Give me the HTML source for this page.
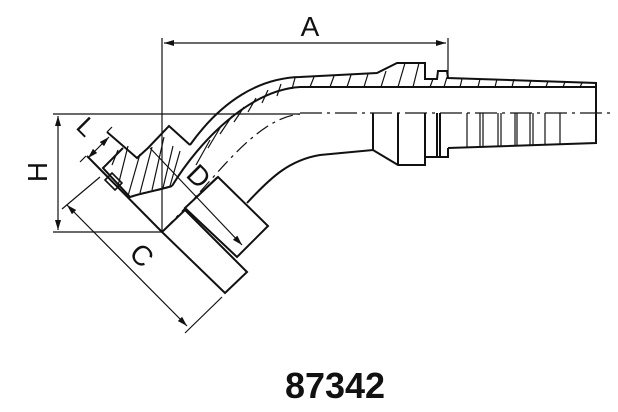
<!DOCTYPE html>
<html><head><meta charset="utf-8"><style>
html,body{margin:0;padding:0;background:#fff;}
svg{display:block;}
text{font-family:"Liberation Sans",Arial,sans-serif;fill:#111;}
</style></head><body>
<svg width="618" height="412" viewBox="0 0 618 412" xmlns="http://www.w3.org/2000/svg">
<defs>
<marker id="ar" viewBox="0 0 10 6" refX="10" refY="3" markerWidth="10" markerHeight="6" orient="auto-start-reverse" markerUnits="userSpaceOnUse">
<path d="M0,0 L10,3 L0,6 z" fill="#111"/></marker>
</defs>
<g stroke="#111" fill="none" stroke-width="1.2">
<!-- dimension A -->
<line x1="162" y1="38" x2="162" y2="233"/>
<line x1="448" y1="38" x2="448" y2="78"/>
<line x1="164" y1="43" x2="446" y2="43" marker-start="url(#ar)" marker-end="url(#ar)"/>
<!-- H -->
<line x1="53" y1="114" x2="300" y2="114"/>
<line x1="53" y1="232" x2="162" y2="232"/>
<line x1="58" y1="116" x2="58" y2="230" marker-start="url(#ar)" marker-end="url(#ar)"/>
<!-- centerline -->
<path d="M300,113 L612,113" stroke-dasharray="22,5,3,5"/>
<path d="M163,231 L190,203 C225,165 260,118 300,114" stroke-dasharray="14,5,3,5"/>
<!-- C dim -->
<line x1="100" y1="177" x2="62" y2="209"/>
<line x1="222" y1="297" x2="185" y2="333"/>
<line x1="67" y1="205" x2="187" y2="326" marker-start="url(#ar)" marker-end="url(#ar)"/>
<!-- D dim -->
<line x1="150" y1="148" x2="242" y2="245" marker-end="url(#ar)"/>
<line x1="193" y1="200" x2="217" y2="177"/>
<!-- L dim -->
<line x1="107" y1="132" x2="112" y2="127"/>
<line x1="86" y1="156" x2="80" y2="162"/>
<line x1="88" y1="158" x2="109" y2="137" marker-start="url(#ar)" marker-end="url(#ar)"/>
</g>
<g stroke="#111" fill="none" stroke-width="2" stroke-linejoin="miter">
<!-- outer curve & right tube -->
<path d="M190,145 C222,100 260,78 300,77 L377,73 L397,63 L425,63 L425,79 L437,79 L438,71 L447,71 L448,78 L596,83 L596,143 L448,148"/>
<path d="M172,186 C200,140 250,90 300,87 L596,87"/>
<!-- lower curve -->
<path d="M247,203 C272,176 290,160 320,155 L373,150 L398,165 L425,165 L425,157 L448,157 L448,148"/>
<line x1="373" y1="113" x2="373" y2="150"/>
<line x1="398" y1="113" x2="398" y2="165"/>
<line x1="425" y1="113" x2="425" y2="157"/>
<line x1="437" y1="113" x2="437" y2="157"/>
<line x1="440" y1="113" x2="440" y2="157"/>
<!-- sleeves -->
<polygon points="218,177 268,226 237,257 185,208"/>
<polygon points="185,210 247,272 225,293 162,232"/>
<line x1="87" y1="156" x2="162" y2="232"/>
<!-- nut -->
<path d="M107,132 L137,158 L148,148 L169,126 L190,145"/>
<path d="M123,148 L103,168 L130,197 C145,192 160,190 172,186"/>
<polygon points="105,180 112,173 122,183 115,190" stroke-width="1.6"/>
</g>
<g stroke="#111" stroke-width="1.2">
<!-- ribs -->
<line x1="467" y1="113" x2="467" y2="148"/>
<line x1="480" y1="113" x2="480" y2="147"/>
<line x1="483" y1="113" x2="483" y2="147"/>
<line x1="498" y1="113" x2="498" y2="147"/>
<line x1="501" y1="113" x2="501" y2="147"/>
<line x1="515" y1="113" x2="515" y2="146"/>
<line x1="517" y1="113" x2="517" y2="146"/>
<line x1="530" y1="113" x2="530" y2="146"/>
<line x1="533" y1="113" x2="533" y2="146"/>
<line x1="545" y1="113" x2="545" y2="145"/>
<line x1="560" y1="113" x2="560" y2="145"/>
<!-- hatch right band -->
<path d="M310,87 l4,-10 M330,87 l4,-11 M347,87 l4,-12 M364,87 l4,-13 M381,87 l5,-16 M398,87 l7,-24 M413,87 l6,-24 M430,87 l3,-8 M444,87 l3,-10 M460,87 l2,-8 M478,87 l2,-8 M495,87 l2,-8 M512,87 l2,-8 M529,87 l2,-7 M546,87 l2,-6 M563,87 l2,-5 M580,87 l2,-4"/>
<!-- hatch curve band -->
<path d="M196,165 l14,-25 M208,148 l12,-20 M220,134 l12,-18 M234,122 l10,-15 M248,112 l8,-14 M262,103 l6,-13 M277,96 l4,-12 M292,89 l3,-11"/>
<!-- hatch nut -->
<path d="M118,186 l10,-40 M128,196 l12,-42 M140,193 l12,-46 M152,190 l12,-53 M163,188 l10,-42 M170,186 l10,-35 M112,165 l6,-15"/>
</g>
<text x="310" y="36" font-size="28" text-anchor="middle">A</text>
<text transform="translate(47,172) rotate(-90)" font-size="28" text-anchor="middle">H</text>
<text transform="translate(80,133) rotate(45)" font-size="26" text-anchor="middle">L</text>
<text transform="translate(192,183) rotate(45)" font-size="28" text-anchor="middle">D</text>
<text transform="translate(135,262) rotate(45)" font-size="28" text-anchor="middle">C</text>
<text x="335" y="398" font-size="36" font-weight="bold" text-anchor="middle">87342</text>
</svg>
</body></html>
